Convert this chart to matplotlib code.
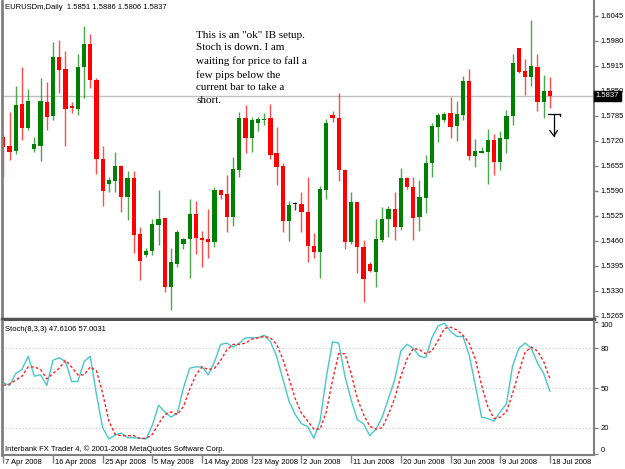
import matplotlib
matplotlib.use("Agg")
import matplotlib.pyplot as plt
import matplotlib.transforms as mtransforms

# Daily EURUSDm bars, 7 Apr 2008 .. 18 Jul 2008 (Sunday bars included)
opens = [1.5731, 1.5707, 1.5694, 1.5815, 1.5753, 1.5698, 1.5707, 1.5822, 1.5785, 1.5938,
         1.5906, 1.5811, 1.5804, 1.5912, 1.5973, 1.5879, 1.5672, 1.5608, 1.5617, 1.5656,
         1.5574, 1.5623, 1.5477, 1.5424, 1.5434, 1.5502, 1.5519, 1.5340, 1.5400, 1.5451,
         1.5464, 1.5530, 1.5467, 1.5466, 1.5458, 1.5593, 1.5582, 1.5523, 1.5645, 1.5781,
         1.5729, 1.5766, 1.5775, 1.5781, 1.5688, 1.5656, 1.5513, 1.5555, 1.5556, 1.5536,
         1.5448, 1.5432, 1.5593, 1.5788, 1.5781, 1.5645, 1.5457, 1.5560, 1.5444, 1.5400,
         1.5380, 1.5463, 1.5516, 1.5543, 1.5496, 1.5623, 1.5601, 1.5521, 1.5571, 1.5662,
         1.5757, 1.5775, 1.5792, 1.5759, 1.5788, 1.5877, 1.5682, 1.5689, 1.5691, 1.5723,
         1.5664, 1.5725, 1.5786, 1.5961, 1.5902, 1.5886, 1.5913, 1.5822, 1.5851]
highs = [1.5735, 1.5796, 1.5863, 1.5912, 1.5854, 1.5730, 1.5883, 1.5874, 1.5977, 1.5983,
         1.5954, 1.5821, 1.5946, 1.6019, 1.5998, 1.5883, 1.5707, 1.5627, 1.5691, 1.5658,
         1.5642, 1.5642, 1.5496, 1.5441, 1.5516, 1.5593, 1.5519, 1.5441, 1.5489, 1.5467,
         1.5569, 1.5564, 1.5486, 1.5543, 1.5601, 1.5593, 1.5632, 1.5679, 1.5796, 1.5814,
         1.5783, 1.5782, 1.5794, 1.5815, 1.5757, 1.5662, 1.5565, 1.5562, 1.5588, 1.5627,
         1.5480, 1.5603, 1.5776, 1.5799, 1.5844, 1.5646, 1.5586, 1.5562, 1.5463, 1.5406,
         1.5517, 1.5549, 1.5551, 1.5586, 1.5649, 1.5625, 1.5627, 1.5619, 1.5684, 1.5766,
         1.5792, 1.5796, 1.5835, 1.5825, 1.5890, 1.5907, 1.5725, 1.5705, 1.5751, 1.5737,
         1.5747, 1.5801, 1.5946, 1.5963, 1.5932, 1.6035, 1.5946, 1.5892, 1.5886]
lows = [1.5625, 1.5671, 1.5686, 1.5723, 1.5749, 1.5692, 1.5669, 1.5749, 1.5775, 1.5844,
        1.5707, 1.5794, 1.5788, 1.5832, 1.5857, 1.5634, 1.5551, 1.5588, 1.5586, 1.5536,
        1.5515, 1.5428, 1.5359, 1.5418, 1.5424, 1.5450, 1.5328, 1.5281, 1.5392, 1.5438,
        1.5363, 1.5426, 1.5393, 1.5415, 1.5445, 1.5568, 1.5482, 1.5499, 1.5626, 1.5688,
        1.5692, 1.5747, 1.5762, 1.5672, 1.5606, 1.5482, 1.5461, 1.5541, 1.5484, 1.5406,
        1.5415, 1.5363, 1.5568, 1.5770, 1.5616, 1.5438, 1.5452, 1.5376, 1.5301, 1.5378,
        1.5341, 1.5458, 1.5471, 1.5463, 1.5489, 1.5594, 1.5463, 1.5487, 1.5532, 1.5626,
        1.5718, 1.5770, 1.5727, 1.5721, 1.5775, 1.5671, 1.5653, 1.5688, 1.5608, 1.5632,
        1.5645, 1.5688, 1.5762, 1.5898, 1.5840, 1.5863, 1.5799, 1.5781, 1.5806]
closes = [1.5705, 1.5692, 1.5814, 1.5755, 1.5824, 1.5711, 1.5824, 1.5782, 1.5938, 1.5905,
          1.5804, 1.5807, 1.5912, 1.5973, 1.5879, 1.5673, 1.5591, 1.5619, 1.5655, 1.5574,
          1.5623, 1.5476, 1.5409, 1.5435, 1.5503, 1.5516, 1.5340, 1.5404, 1.5482, 1.5464,
          1.5530, 1.5467, 1.5463, 1.5456, 1.5593, 1.5580, 1.5523, 1.5647, 1.5781, 1.5729,
          1.5775, 1.5778, 1.5778, 1.5684, 1.5653, 1.5513, 1.5554, 1.5555, 1.5536, 1.5447,
          1.5432, 1.5594, 1.5768, 1.5781, 1.5645, 1.5458, 1.5560, 1.5444, 1.5360, 1.5383,
          1.5464, 1.5516, 1.5543, 1.5497, 1.5623, 1.5599, 1.5519, 1.5573, 1.5662, 1.5760,
          1.5788, 1.5789, 1.5757, 1.5790, 1.5877, 1.5682, 1.5694, 1.5694, 1.5723, 1.5664,
          1.5729, 1.5785, 1.5922, 1.5900, 1.5886, 1.5916, 1.5822, 1.5851, 1.5837]

# Stochastic(8,3,3): main line and signal line
stochK = [54, 52, 61, 64, 74, 59, 60, 52, 71, 73, 70, 55, 55, 70, 74, 45, 20, 11.5, 14.5, 16,
          12.5, 12.5, 12, 11.5, 22, 37, 32, 28, 31, 50, 65, 66, 66, 60, 70, 83, 84, 81, 84, 88,
          88, 88, 90, 85, 74, 57, 40, 30, 23, 21, 12, 25, 58, 85, 84, 59, 41, 26, 23, 14,
          19, 28, 42, 56, 78, 83, 80, 74, 73, 88, 97, 99, 93, 89, 89, 75, 52, 28, 27, 25,
          32, 38, 67, 80, 84, 80, 69, 61, 47.6]
stochD = [52, 53, 56, 59, 66, 66, 64, 57, 61, 65, 71, 66, 60, 60, 66, 63, 46, 25, 15, 14,
          14, 14, 12, 12, 15, 23, 30, 32, 30, 36, 49, 60, 66, 64, 65, 71, 79, 83, 83, 84,
          87, 88, 89, 88, 83, 72, 57, 42, 31, 25, 19, 19, 32, 56, 76, 76, 61, 42, 30, 21,
          19, 20, 30, 42, 59, 72, 80, 79, 76, 78, 86, 95, 96, 94, 90, 84, 72, 52, 36, 27,
          28, 32, 46, 62, 77, 81, 78, 70, 57]

priceTicks = [1.6045, 1.5980, 1.5915, 1.5850, 1.5785, 1.5720, 1.5655, 1.5590,
              1.5525, 1.5460, 1.5395, 1.5330, 1.5265]
stochTicks = [100, 80, 50, 20, 0]
stochLevels = [20, 50, 80]
dateLabels = ["7 Apr 2008", "16 Apr 2008", "25 Apr 2008", "5 May 2008", "14 May 2008",
              "23 May 2008", "2 Jun 2008", "11 Jun 2008", "20 Jun 2008", "30 Jun 2008",
              "9 Jul 2008", "18 Jul 2008"]

uiFont = ["Liberation Sans", "DejaVu Sans"]
uiSize = 5.5
upColor = "#008000"
downColor = "#ff0000"
W, H = 625, 469


def candleColors():
    '''Green for up bars, red for down bars, black when open equals close'''
    cols = []
    for o, c in zip(opens, closes):
        if c > o:
            cols.append(upColor)
        elif c < o:
            cols.append(downColor)
        else:
            cols.append("black")
    return cols


def drawCandles(ax):
    x = list(range(len(opens)))
    cols = candleColors()
    bottoms = [min(o, c) for o, c in zip(opens, closes)]
    heights = [max(abs(c - o), 0.00028) for o, c in zip(opens, closes)]
    ax.vlines(x, lows, highs, colors=cols, linewidth=1, alpha=0.7)
    ax.bar(x, heights, bottom=bottoms, width=0.68, color=cols, linewidth=0)

    # current price line and its marker on the scale
    last = closes[-1]
    ax.axhline(last, color="#c0c0c0", linewidth=1, zorder=0)
    blend = mtransforms.blended_transform_factory(ax.transAxes, ax.transData)
    ax.text(1.003, last, "%.4f" % last, transform=blend, ha="left", va="center",
            color="white", fontsize=uiSize, family=uiFont, zorder=10, clip_on=False,
            bbox=dict(facecolor="black", edgecolor="black", pad=1.4))


fig = plt.figure(figsize=(W / 100, H / 100), dpi=100)
fig.patch.set_facecolor("white")

ax1 = fig.add_axes([2 / W, 150 / H, 592 / W, 318 / H])
ax2 = fig.add_axes([2 / W, 14 / H, 592 / W, 134 / H])

drawCandles(ax1)
xmin, xmax = -0.21, 95.1
ax1.set_xlim(xmin, xmax)
ax1.set_ylim(1.5257, 1.6084)
ax1.yaxis.tick_right()
ax1.set_yticks(priceTicks)
ax1.set_yticklabels(["%.4f" % p for p in priceTicks], family=uiFont, fontsize=uiSize)
ax1.tick_params(axis="y", direction="out", length=3, width=1, color="#808080", pad=2)
ax1.set_xticks([])

ax1.text(0.005, 0.978, "EURUSDm,Daily  %.4f %.4f %.4f %.4f"
         % (opens[-1], highs[-1], lows[-1], closes[-1]),
         transform=ax1.transAxes, ha="left", va="center", fontsize=uiSize, family=uiFont)

note = ("This is an \"ok\" IB setup.\nStoch is down. I am\nwaiting for price to fall a\n"
        "few pips below the\ncurrent bar to take a\nshort.")
ax1.text(0.328, 0.907, note, transform=ax1.transAxes, ha="left", va="top",
         fontsize=8, family="Liberation Serif", linespacing=1.52)

# hand drawn arrow under the last bar
n = len(opens)
ax1.plot([n - 1.3, n + 0.6], [1.5789, 1.5789], color="black", linewidth=0.9)
ax1.plot([n + 0.6, n + 0.6], [1.5789, 1.5784], color="black", linewidth=0.9)
ax1.plot([n - 0.35, n - 0.35], [1.5787, 1.5733], color="black", linewidth=0.9)
ax1.plot([n - 1.0, n - 0.35, n + 0.2], [1.5747, 1.5733, 1.5747], color="black", linewidth=0.9)

# stochastic window
x = list(range(n))
for lvl in stochLevels:
    ax2.axhline(lvl, color="#c8c8c8", linewidth=0.8, linestyle=(0, (1, 2)), zorder=0)
ax2.plot(x, stochK, color="#48c8c8", linewidth=1)
ax2.plot(x, stochD, color="#ff2020", linewidth=1, linestyle=(0, (2, 1.6)))
ax2.set_xlim(xmin, xmax)
ax2.set_ylim(-0.6, 100.7)
ax2.yaxis.tick_right()
ax2.set_yticks(stochTicks)
ax2.set_yticklabels([str(t) for t in stochTicks], family=uiFont, fontsize=uiSize)
ylabs = ax2.get_yticklabels()
ylabs[0].set_va("top")
ylabs[-1].set_va("bottom")
ax2.tick_params(axis="y", direction="out", length=3, width=1, color="#808080", pad=2)

ax2.set_xticks(list(range(0, n, 8)))
ax2.set_xticklabels(dateLabels, family=uiFont, fontsize=uiSize, ha="left")
ax2.tick_params(axis="x", direction="out", length=6, width=1, color="#808080", pad=-3)
for lab in ax2.get_xticklabels():
    lab.set_transform(lab.get_transform() + mtransforms.Affine2D().translate(2, 0))

ax2.text(0.005, 0.94, "Stoch(8,3,3) %.4f %.4f" % (47.6106, 57.0031),
         transform=ax2.transAxes, ha="left", va="center", fontsize=uiSize, family=uiFont)
ax2.text(0.005, 0.04, "Interbank FX Trader 4, \u00a9 2001-2008 MetaQuotes Software Corp.",
         transform=ax2.transAxes, ha="left", va="center", fontsize=uiSize, family=uiFont)

for ax in (ax1, ax2):
    ax.set_facecolor("white")
    ax.spines["top"].set_visible(False)
    ax.spines["left"].set_color("#808080")
    ax.spines["left"].set_linewidth(2)
    ax.spines["right"].set_color("#808080")
    ax.spines["right"].set_linewidth(1.5)
ax1.spines["bottom"].set_color("#505050")
ax1.spines["bottom"].set_linewidth(2.5)
ax2.spines["bottom"].set_color("#808080")
ax2.spines["bottom"].set_linewidth(1.5)

fig.savefig("out.png", dpi=100)
